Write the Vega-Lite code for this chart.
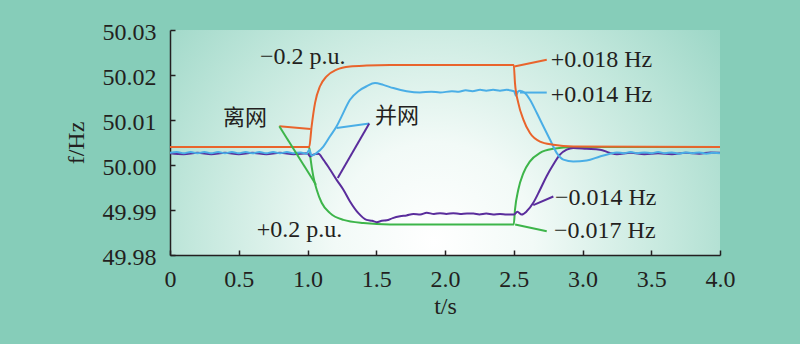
{
  "$schema": "https://vega.github.io/schema/vega-lite/v6.json",
  "width": 550,
  "height": 225,
  "autosize": {"type": "none"},
  "padding": {"left": 170, "top": 30, "right": 80, "bottom": 89},
  "background": "#86cdb9",
  "config": {
    "view": {
      "stroke": null,
      "fill": {
        "gradient": "radial",
        "x1": 0.48, "y1": 0.68, "r1": 0,
        "x2": 0.48, "y2": 0.68, "r2": 0.72,
        "stops": [
          {"offset": 0, "color": "#ffffff"},
          {"offset": 0.25, "color": "#f2faf7"},
          {"offset": 0.6, "color": "#c4e8dd"},
          {"offset": 1, "color": "#8fd1bf"}
        ]
      }
    },
    "font": "Liberation Serif",
    "axis": {
      "grid": false,
      "domainColor": "#231f20",
      "domainWidth": 1.5,
      "tickColor": "#231f20",
      "tickWidth": 1.5,
      "tickSize": -5,
      "labelFlush": false,
      "labelFont": "Liberation Serif",
      "labelFontSize": 24,
      "labelColor": "#231f20",
      "titleFont": "Liberation Serif",
      "titleFontSize": 24,
      "titleFontWeight": "normal",
      "titleColor": "#231f20"
    }
  },
  "datasets": {
    "curves": [
      {"curve": "off_plus", "t": 0, "f": 50.004},
      {"curve": "off_plus", "t": 1.0, "f": 50.004},
      {"curve": "off_plus", "t": 1.013, "f": 50.0038},
      {"curve": "off_plus", "t": 1.023, "f": 50.0012},
      {"curve": "off_plus", "t": 1.042, "f": 49.9975},
      {"curve": "off_plus", "t": 1.067, "f": 49.9945},
      {"curve": "off_plus", "t": 1.103, "f": 49.9916},
      {"curve": "off_plus", "t": 1.164, "f": 49.9893},
      {"curve": "off_plus", "t": 1.261, "f": 49.9878},
      {"curve": "off_plus", "t": 1.406, "f": 49.9871},
      {"curve": "off_plus", "t": 1.6, "f": 49.9868},
      {"curve": "off_plus", "t": 2.5, "f": 49.9868},
      {"curve": "off_plus", "t": 2.509, "f": 49.9901},
      {"curve": "off_plus", "t": 2.533, "f": 49.9945},
      {"curve": "off_plus", "t": 2.57, "f": 49.9982},
      {"curve": "off_plus", "t": 2.618, "f": 50.0008},
      {"curve": "off_plus", "t": 2.691, "f": 50.0027},
      {"curve": "off_plus", "t": 2.788, "f": 50.0036},
      {"curve": "off_plus", "t": 2.933, "f": 50.004},
      {"curve": "off_plus", "t": 4.0, "f": 50.004},

      {"curve": "on_plus", "t": 0, "f": 50.0026},
      {"curve": "on_plus", "t": 0.1, "f": 50.0024},
      {"curve": "on_plus", "t": 0.2, "f": 50.0027},
      {"curve": "on_plus", "t": 0.3, "f": 50.0024},
      {"curve": "on_plus", "t": 0.4, "f": 50.0027},
      {"curve": "on_plus", "t": 0.5, "f": 50.0024},
      {"curve": "on_plus", "t": 0.6, "f": 50.0027},
      {"curve": "on_plus", "t": 0.7, "f": 50.0024},
      {"curve": "on_plus", "t": 0.8, "f": 50.0027},
      {"curve": "on_plus", "t": 0.9, "f": 50.0024},
      {"curve": "on_plus", "t": 1.0, "f": 50.0026},
      {"curve": "on_plus", "t": 1.018, "f": 50.0019},
      {"curve": "on_plus", "t": 1.042, "f": 50.0023},
      {"curve": "on_plus", "t": 1.079, "f": 50.0025},
      {"curve": "on_plus", "t": 1.115, "f": 50.0012},
      {"curve": "on_plus", "t": 1.164, "f": 49.999},
      {"curve": "on_plus", "t": 1.212, "f": 49.9967},
      {"curve": "on_plus", "t": 1.261, "f": 49.9945},
      {"curve": "on_plus", "t": 1.309, "f": 49.9919},
      {"curve": "on_plus", "t": 1.37, "f": 49.9893},
      {"curve": "on_plus", "t": 1.43, "f": 49.9878},
      {"curve": "on_plus", "t": 1.47, "f": 49.9876},
      {"curve": "on_plus", "t": 1.503, "f": 49.9873},
      {"curve": "on_plus", "t": 1.54, "f": 49.9876},
      {"curve": "on_plus", "t": 1.576, "f": 49.9877},
      {"curve": "on_plus", "t": 1.62, "f": 49.9882},
      {"curve": "on_plus", "t": 1.673, "f": 49.9886},
      {"curve": "on_plus", "t": 1.72, "f": 49.9888},
      {"curve": "on_plus", "t": 1.77, "f": 49.9891},
      {"curve": "on_plus", "t": 1.82, "f": 49.989},
      {"curve": "on_plus", "t": 1.867, "f": 49.9894},
      {"curve": "on_plus", "t": 1.92, "f": 49.9891},
      {"curve": "on_plus", "t": 1.964, "f": 49.9893},
      {"curve": "on_plus", "t": 2.01, "f": 49.9891},
      {"curve": "on_plus", "t": 2.06, "f": 49.9893},
      {"curve": "on_plus", "t": 2.11, "f": 49.9891},
      {"curve": "on_plus", "t": 2.16, "f": 49.9892},
      {"curve": "on_plus", "t": 2.206, "f": 49.9892},
      {"curve": "on_plus", "t": 2.25, "f": 49.989},
      {"curve": "on_plus", "t": 2.3, "f": 49.9892},
      {"curve": "on_plus", "t": 2.35, "f": 49.989},
      {"curve": "on_plus", "t": 2.4, "f": 49.9891},
      {"curve": "on_plus", "t": 2.448, "f": 49.989},
      {"curve": "on_plus", "t": 2.502, "f": 49.989},
      {"curve": "on_plus", "t": 2.526, "f": 49.9896},
      {"curve": "on_plus", "t": 2.558, "f": 49.989},
      {"curve": "on_plus", "t": 2.594, "f": 49.9897},
      {"curve": "on_plus", "t": 2.642, "f": 49.9916},
      {"curve": "on_plus", "t": 2.691, "f": 49.9945},
      {"curve": "on_plus", "t": 2.739, "f": 49.9975},
      {"curve": "on_plus", "t": 2.788, "f": 50.0001},
      {"curve": "on_plus", "t": 2.836, "f": 50.0023},
      {"curve": "on_plus", "t": 2.885, "f": 50.0034},
      {"curve": "on_plus", "t": 2.933, "f": 50.0038},
      {"curve": "on_plus", "t": 3.03, "f": 50.0036},
      {"curve": "on_plus", "t": 3.127, "f": 50.0034},
      {"curve": "on_plus", "t": 3.2, "f": 50.0027},
      {"curve": "on_plus", "t": 3.25, "f": 50.0024},
      {"curve": "on_plus", "t": 3.35, "f": 50.0027},
      {"curve": "on_plus", "t": 3.45, "f": 50.0024},
      {"curve": "on_plus", "t": 3.55, "f": 50.0026},
      {"curve": "on_plus", "t": 3.65, "f": 50.0024},
      {"curve": "on_plus", "t": 3.75, "f": 50.0027},
      {"curve": "on_plus", "t": 3.85, "f": 50.0025},
      {"curve": "on_plus", "t": 3.93, "f": 50.0028},
      {"curve": "on_plus", "t": 4.0, "f": 50.0027},

      {"curve": "on_minus", "t": 0, "f": 50.0027},
      {"curve": "on_minus", "t": 0.05, "f": 50.0029},
      {"curve": "on_minus", "t": 0.1, "f": 50.0026},
      {"curve": "on_minus", "t": 0.15, "f": 50.0029},
      {"curve": "on_minus", "t": 0.2, "f": 50.0026},
      {"curve": "on_minus", "t": 0.25, "f": 50.0029},
      {"curve": "on_minus", "t": 0.3, "f": 50.0026},
      {"curve": "on_minus", "t": 0.35, "f": 50.0029},
      {"curve": "on_minus", "t": 0.4, "f": 50.0026},
      {"curve": "on_minus", "t": 0.45, "f": 50.0029},
      {"curve": "on_minus", "t": 0.5, "f": 50.0026},
      {"curve": "on_minus", "t": 0.55, "f": 50.0029},
      {"curve": "on_minus", "t": 0.6, "f": 50.0026},
      {"curve": "on_minus", "t": 0.65, "f": 50.0029},
      {"curve": "on_minus", "t": 0.7, "f": 50.0026},
      {"curve": "on_minus", "t": 0.75, "f": 50.0029},
      {"curve": "on_minus", "t": 0.8, "f": 50.0026},
      {"curve": "on_minus", "t": 0.85, "f": 50.0029},
      {"curve": "on_minus", "t": 0.9, "f": 50.0026},
      {"curve": "on_minus", "t": 0.95, "f": 50.0028},
      {"curve": "on_minus", "t": 0.994, "f": 50.0025},
      {"curve": "on_minus", "t": 1.013, "f": 50.0034},
      {"curve": "on_minus", "t": 1.03, "f": 50.0021},
      {"curve": "on_minus", "t": 1.067, "f": 50.0027},
      {"curve": "on_minus", "t": 1.115, "f": 50.0041},
      {"curve": "on_minus", "t": 1.164, "f": 50.0064},
      {"curve": "on_minus", "t": 1.212, "f": 50.0086},
      {"curve": "on_minus", "t": 1.248, "f": 50.0108},
      {"curve": "on_minus", "t": 1.309, "f": 50.0145},
      {"curve": "on_minus", "t": 1.37, "f": 50.0164},
      {"curve": "on_minus", "t": 1.43, "f": 50.0175},
      {"curve": "on_minus", "t": 1.491, "f": 50.0182},
      {"curve": "on_minus", "t": 1.551, "f": 50.0178},
      {"curve": "on_minus", "t": 1.624, "f": 50.0171},
      {"curve": "on_minus", "t": 1.721, "f": 50.0164},
      {"curve": "on_minus", "t": 1.818, "f": 50.0161},
      {"curve": "on_minus", "t": 1.9, "f": 50.0163},
      {"curve": "on_minus", "t": 1.964, "f": 50.0161},
      {"curve": "on_minus", "t": 2.05, "f": 50.0164},
      {"curve": "on_minus", "t": 2.1, "f": 50.0163},
      {"curve": "on_minus", "t": 2.15, "f": 50.0166},
      {"curve": "on_minus", "t": 2.2, "f": 50.0164},
      {"curve": "on_minus", "t": 2.255, "f": 50.0167},
      {"curve": "on_minus", "t": 2.3, "f": 50.0165},
      {"curve": "on_minus", "t": 2.35, "f": 50.0167},
      {"curve": "on_minus", "t": 2.4, "f": 50.0165},
      {"curve": "on_minus", "t": 2.448, "f": 50.0167},
      {"curve": "on_minus", "t": 2.502, "f": 50.0164},
      {"curve": "on_minus", "t": 2.516, "f": 50.0154},
      {"curve": "on_minus", "t": 2.53, "f": 50.0163},
      {"curve": "on_minus", "t": 2.545, "f": 50.0165},
      {"curve": "on_minus", "t": 2.582, "f": 50.016},
      {"curve": "on_minus", "t": 2.618, "f": 50.0145},
      {"curve": "on_minus", "t": 2.667, "f": 50.0116},
      {"curve": "on_minus", "t": 2.715, "f": 50.0086},
      {"curve": "on_minus", "t": 2.764, "f": 50.0056},
      {"curve": "on_minus", "t": 2.812, "f": 50.0027},
      {"curve": "on_minus", "t": 2.861, "f": 50.0012},
      {"curve": "on_minus", "t": 2.933, "f": 50.0008},
      {"curve": "on_minus", "t": 3.03, "f": 50.001},
      {"curve": "on_minus", "t": 3.127, "f": 50.0019},
      {"curve": "on_minus", "t": 3.2, "f": 50.0025},
      {"curve": "on_minus", "t": 3.25, "f": 50.0028},
      {"curve": "on_minus", "t": 3.3, "f": 50.0026},
      {"curve": "on_minus", "t": 3.35, "f": 50.0029},
      {"curve": "on_minus", "t": 3.4, "f": 50.0026},
      {"curve": "on_minus", "t": 3.45, "f": 50.0028},
      {"curve": "on_minus", "t": 3.5, "f": 50.0026},
      {"curve": "on_minus", "t": 3.55, "f": 50.0029},
      {"curve": "on_minus", "t": 3.6, "f": 50.0026},
      {"curve": "on_minus", "t": 3.65, "f": 50.0028},
      {"curve": "on_minus", "t": 3.7, "f": 50.0025},
      {"curve": "on_minus", "t": 3.75, "f": 50.0028},
      {"curve": "on_minus", "t": 3.8, "f": 50.0026},
      {"curve": "on_minus", "t": 3.85, "f": 50.0028},
      {"curve": "on_minus", "t": 3.9, "f": 50.0025},
      {"curve": "on_minus", "t": 3.95, "f": 50.0027},
      {"curve": "on_minus", "t": 4.0, "f": 50.0026},

      {"curve": "off_minus", "t": 0, "f": 50.004},
      {"curve": "off_minus", "t": 1.0, "f": 50.004},
      {"curve": "off_minus", "t": 1.013, "f": 50.0041},
      {"curve": "off_minus", "t": 1.03, "f": 50.0086},
      {"curve": "off_minus", "t": 1.055, "f": 50.0138},
      {"curve": "off_minus", "t": 1.091, "f": 50.0175},
      {"curve": "off_minus", "t": 1.139, "f": 50.0197},
      {"curve": "off_minus", "t": 1.212, "f": 50.0212},
      {"curve": "off_minus", "t": 1.309, "f": 50.0219},
      {"curve": "off_minus", "t": 1.43, "f": 50.0221},
      {"curve": "off_minus", "t": 1.6, "f": 50.0222},
      {"curve": "off_minus", "t": 2.5, "f": 50.0222},
      {"curve": "off_minus", "t": 2.509, "f": 50.0182},
      {"curve": "off_minus", "t": 2.533, "f": 50.0138},
      {"curve": "off_minus", "t": 2.57, "f": 50.0101},
      {"curve": "off_minus", "t": 2.618, "f": 50.0071},
      {"curve": "off_minus", "t": 2.691, "f": 50.0052},
      {"curve": "off_minus", "t": 2.788, "f": 50.0045},
      {"curve": "off_minus", "t": 2.933, "f": 50.0041},
      {"curve": "off_minus", "t": 4.0, "f": 50.004}
    ],
    "leaders": [
      {"curve": "off_minus", "t": 0.795, "f": 50.0086, "t2": 1.023, "f2": 50.008},
      {"curve": "off_plus", "t": 0.795, "f": 50.0086, "t2": 1.062, "f2": 49.9956},
      {"curve": "on_minus", "t": 1.449, "f": 50.0092, "t2": 1.212, "f2": 50.0082},
      {"curve": "on_plus", "t": 1.449, "f": 50.0092, "t2": 1.22, "f2": 49.9971},
      {"curve": "off_minus", "t": 2.504, "f": 50.0219, "t2": 2.74, "f2": 50.0234},
      {"curve": "on_minus", "t": 2.545, "f": 50.0161, "t2": 2.74, "f2": 50.0161},
      {"curve": "on_plus", "t": 2.642, "f": 49.9911, "t2": 2.788, "f2": 49.993},
      {"curve": "off_plus", "t": 2.51, "f": 49.9868, "t2": 2.74, "f2": 49.9853}
    ],
    "labels": [
      {"text": "−0.2 p.u.", "t": 0.655, "f": 50.0239},
      {"text": "+0.018 Hz", "t": 2.769, "f": 50.0234},
      {"text": "+0.014 Hz", "t": 2.769, "f": 50.0156},
      {"text": "−0.014 Hz", "t": 2.8, "f": 49.9926},
      {"text": "−0.017 Hz", "t": 2.793, "f": 49.9853},
      {"text": "+0.2 p.u.", "t": 0.63, "f": 49.9856}
    ],
    "cjk": [
      {"text": "离网", "t": 0.385, "f": 50.0105},
      {"text": "并网", "t": 1.49, "f": 50.0108}
    ]
  },
  "layer": [
    {
      "data": {"name": "curves"},
      "mark": {"type": "line", "strokeWidth": 2, "clip": true, "interpolate": "monotone"},
      "encoding": {
        "x": {
          "field": "t", "type": "quantitative",
          "scale": {"domain": [0, 4], "nice": false, "zero": false},
          "axis": {
            "values": [0, 0.5, 1, 1.5, 2, 2.5, 3, 3.5, 4],
            "labelExpr": "datum.value == 0 ? '0' : format(datum.value, '.1f')",
            "labelPadding": 17,
            "title": "t/s",
            "titlePadding": 3
          }
        },
        "y": {
          "field": "f", "type": "quantitative",
          "scale": {"domain": [49.98, 50.03], "nice": false, "zero": false},
          "axis": {
            "values": [49.98, 49.99, 50.0, 50.01, 50.02, 50.03],
            "format": ".2f",
            "labelPadding": 19,
            "labelOffset": 2,
            "title": "f/Hz",
            "titlePadding": 14
          }
        },
        "color": {
          "field": "curve", "type": "nominal",
          "scale": {
            "domain": ["off_plus", "on_plus", "on_minus", "off_minus"],
            "range": ["#3db54a", "#5a2d9c", "#4aaee6", "#e9642c"]
          },
          "legend": null
        }
      }
    },
    {
      "data": {"name": "leaders"},
      "mark": {"type": "rule", "strokeWidth": 2},
      "encoding": {
        "x": {"field": "t", "type": "quantitative"},
        "y": {"field": "f", "type": "quantitative"},
        "x2": {"field": "t2"},
        "y2": {"field": "f2"},
        "color": {"field": "curve", "type": "nominal", "legend": null}
      }
    },
    {
      "data": {"name": "labels"},
      "mark": {
        "type": "text", "align": "left", "baseline": "middle",
        "font": "Liberation Serif", "fontSize": 24, "color": "#231f20"
      },
      "encoding": {
        "x": {"field": "t", "type": "quantitative"},
        "y": {"field": "f", "type": "quantitative"},
        "text": {"field": "text"}
      }
    },
    {
      "data": {"name": "cjk"},
      "mark": {
        "type": "text", "align": "left", "baseline": "middle",
        "font": "Noto Sans CJK SC", "fontSize": 22, "color": "#231f20"
      },
      "encoding": {
        "x": {"field": "t", "type": "quantitative"},
        "y": {"field": "f", "type": "quantitative"},
        "text": {"field": "text"}
      }
    }
  ]
}
